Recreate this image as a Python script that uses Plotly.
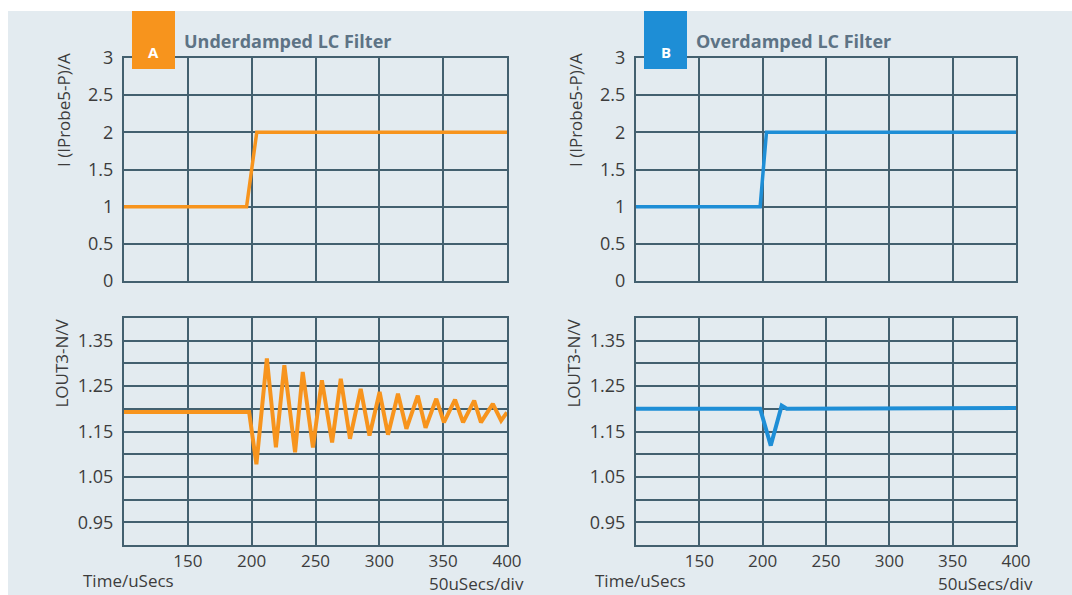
import plotly.graph_objects as go

# ---- data ----
t_step_a = [100, 196, 204, 400]
i_step_a = [1.0, 1.0, 2.0, 2.0]
t_step_b = [100, 198, 203, 400]
i_step_b = [1.0, 1.0, 2.0, 2.0]

t_ring_a = [100, 198, 203.7, 211.9, 219, 225.6, 234, 240, 248, 255, 263, 269.8, 277, 285.4,
            292.3, 300.2, 306.8, 314.6, 321.2, 330.1, 336.2, 344.6, 350.6, 359.3, 365.6,
            374.3, 379.6, 388.9, 395.4, 400]
v_ring_a = [1.193, 1.193, 1.078, 1.311, 1.115, 1.296, 1.104, 1.281, 1.115, 1.263, 1.126, 1.266,
            1.134, 1.244, 1.141, 1.237, 1.143, 1.233, 1.156, 1.229, 1.158, 1.222, 1.170, 1.220,
            1.170, 1.218, 1.170, 1.211, 1.174, 1.192]

t_ring_b = [100, 198, 206.4, 215, 219, 400]
v_ring_b = [1.200, 1.200, 1.119, 1.207, 1.200, 1.202]

x_ticks = [100, 150, 200, 250, 300, 350, 400]
x_labels = ["", "150", "200", "250", "300", "350", "400"]
i_ticks = [0, 0.5, 1, 1.5, 2, 2.5, 3]
i_labels = ["0", "0.5", "1", "1.5", "2", "2.5", "3"]
v_ticks = [0.9, 0.95, 1.0, 1.05, 1.1, 1.15, 1.2, 1.25, 1.3, 1.35, 1.4]
v_labels = ["", "0.95", "", "1.05", "", "1.15", "", "1.25", "", "1.35", ""]

titles = ["Underdamped LC Filter", "Overdamped LC Filter"]
badges = ["A", "B"]
i_title = "I (IProbe5-P)/A"
v_title = "LOUT3-N/V"
x_title = "Time/uSecs"
x_scale = "50uSecs/div"

# ---- style ----
W, H = 1072, 595
ORANGE = "#f7941d"
BLUE = "#1e8ed6"
GRID = "#43606f"
BG = "#e3ebf0"
TXT = "#3c3c3c"
FONT = "Open Sans"

def px(x):
    return x / W

def py(y):
    return 1 - y / H

panel_x = [(124, 507), (636, 1016)]
top_y = (58, 281)
bot_y = (318, 545)

fig = go.Figure()

colors = [ORANGE, BLUE]
tops = [(t_step_a, i_step_a), (t_step_b, i_step_b)]
bots = [(t_ring_a, v_ring_a), (t_ring_b, v_ring_b)]

axis_common = dict(showgrid=True, gridcolor=GRID, gridwidth=2, showline=True,
                   linecolor=GRID, linewidth=2, mirror=True, zeroline=False,
                   ticks="", automargin=False)

for p in range(2):
    xa_top = 2 * p + 1
    xa_bot = 2 * p + 2
    x0, x1 = panel_x[p]
    for k, (ax_i, (ya, yb)) in enumerate([(xa_top, top_y), (xa_bot, bot_y)]):
        sx = "" if ax_i == 1 else str(ax_i)
        fig.update_layout(**{
            "xaxis" + sx: dict(domain=[px(x0), px(x1)], range=[100, 400], anchor="y" + sx,
                               tickmode="array", tickvals=x_ticks, ticklabelstandoff=0,
                               ticktext=(x_labels if k == 1 else [""] * len(x_ticks)),
                               tickfont=dict(family=FONT, size=17, color=TXT),
                               **axis_common),
            "yaxis" + sx: dict(domain=[py(yb), py(ya)], anchor="x" + sx,
                               range=([0, 3] if k == 0 else [0.9, 1.4]),
                               tickmode="array", ticklabelstandoff=5,
                               tickvals=(i_ticks if k == 0 else v_ticks),
                               ticktext=(i_labels if k == 0 else v_labels),
                               tickfont=dict(family=FONT, size=18, color=TXT),
                               **axis_common),
        })
    tt, ii = tops[p]
    fig.add_trace(go.Scatter(x=tt, y=ii, mode="lines", line=dict(color=colors[p], width=3.5),
                             xaxis="x" + ("" if xa_top == 1 else str(xa_top)),
                             yaxis="y" + ("" if xa_top == 1 else str(xa_top)),
                             showlegend=False, hoverinfo="skip"))
    tb, vb = bots[p]
    fig.add_trace(go.Scatter(x=tb, y=vb, mode="lines", line=dict(color=colors[p], width=4),
                             xaxis="x" + str(xa_bot), yaxis="y" + str(xa_bot),
                             showlegend=False, hoverinfo="skip"))

shapes = [dict(type="rect", xref="paper", yref="paper", x0=px(8), x1=1, y0=0, y1=py(11),
               fillcolor=BG, line=dict(width=0), layer="below")]
annots = []
for p in range(2):
    x0, x1 = panel_x[p]
    bx0 = x0 + 8
    shapes.append(dict(type="rect", xref="paper", yref="paper", x0=px(bx0), x1=px(bx0 + 43),
                       y0=py(69), y1=py(11), fillcolor=colors[p], line=dict(width=0), layer="above"))
    annots.append(dict(xref="paper", yref="paper", x=px(bx0 + 21.5), y=py(52), text="<b>%s</b>" % badges[p],
                       showarrow=False, font=dict(family=FONT, size=15, color="white"),
                       xanchor="center", yanchor="middle"))
    annots.append(dict(xref="paper", yref="paper", x=px(bx0 + 50), y=py(41), text="<b>%s</b>" % titles[p],
                       showarrow=False, font=dict(family=FONT, size=18, color="#5d7385"),
                       xanchor="left", yanchor="middle"))
    annots.append(dict(xref="paper", yref="paper", x=px(x0 - 61), y=py(51), text=i_title,
                       showarrow=False, textangle=-90, font=dict(family=FONT, size=17, color=TXT),
                       xanchor="center", yanchor="top"))
    annots.append(dict(xref="paper", yref="paper", x=px(x0 - 63), y=py(317), text=v_title,
                       showarrow=False, textangle=-90, font=dict(family=FONT, size=17, color=TXT),
                       xanchor="center", yanchor="top"))
    annots.append(dict(xref="paper", yref="paper", x=px(x0 - 43), y=py(580), text=x_title,
                       showarrow=False, font=dict(family=FONT, size=17, color=TXT),
                       xanchor="left", yanchor="middle"))
    annots.append(dict(xref="paper", yref="paper", x=px(x1 + 19), y=py(583), text=x_scale,
                       showarrow=False, font=dict(family=FONT, size=17, color=TXT),
                       xanchor="right", yanchor="middle"))

fig.update_layout(width=W, height=H, margin=dict(l=0, r=0, t=0, b=0, pad=0),
                  paper_bgcolor="white", plot_bgcolor="white",
                  shapes=shapes, annotations=annots, showlegend=False,
                  font=dict(family=FONT, color=TXT))

fig.write_html("out.html", config={"displayModeBar": False},
               post_script="document.body.style.margin='0';document.body.style.overflow='hidden';")
